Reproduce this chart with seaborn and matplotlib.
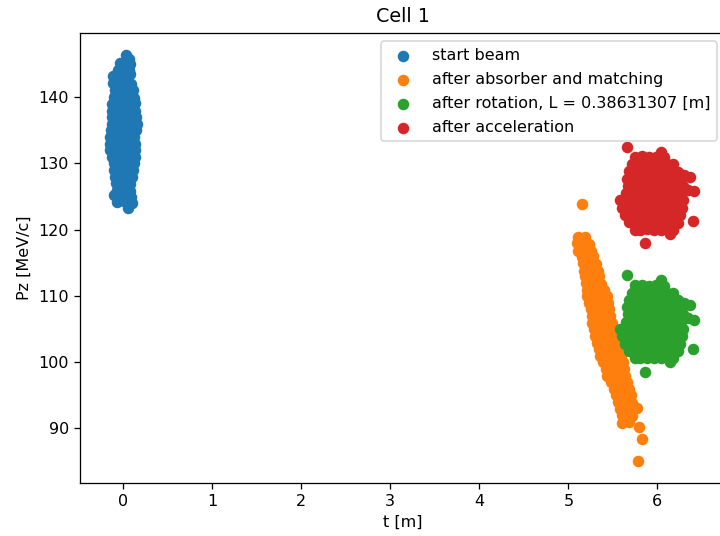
import matplotlib
matplotlib.use("Agg")
import matplotlib.pyplot as plt
import pandas as pd
import seaborn as sns

# Longitudinal phase space (t [m], Pz [MeV/c]) of the macro-particles per stage
start_beam = [
    (0.03, 146.4), (0.06, 145.8),
    (-0.04, 145.2), (0.02, 145.3), (0.07, 145.0),
    (-0.06, 144.2), (0.01, 144.3), (0.06, 144.1),
    (-0.12, 143.3), (-0.04, 143.4), (0.04, 143.2), (0.08, 143.5),
    (-0.12, 142.2), (-0.04, 142.1), (0.04, 142.3), (0.09, 142.0),
    (-0.09, 141.1), (-0.02, 141.2), (0.05, 141.0), (0.11, 141.1),
    (-0.11, 140.1), (-0.03, 140.0), (0.05, 140.2), (0.12, 139.9),
    (-0.13, 139.0), (-0.05, 139.1), (0.04, 138.9), (0.13, 139.1),
    (-0.13, 138.0), (-0.04, 137.9), (0.05, 138.1), (0.13, 137.9),
    (-0.13, 137.0), (-0.04, 137.1), (0.05, 136.9), (0.14, 137.0),
    (-0.13, 136.0), (-0.04, 135.9), (0.06, 136.1), (0.15, 136.0),
    (-0.14, 135.0), (-0.05, 135.1), (0.05, 134.9), (0.14, 135.1),
    (-0.15, 134.0), (-0.06, 133.9), (0.03, 134.1), (0.12, 134.0),
    (-0.15, 133.0), (-0.06, 133.1), (0.03, 132.9), (0.13, 133.0),
    (-0.15, 132.0), (-0.06, 131.9), (0.04, 132.1), (0.13, 132.0),
    (-0.13, 131.0), (-0.04, 131.1), (0.05, 130.9), (0.13, 131.0),
    (-0.11, 130.0), (-0.03, 129.9), (0.05, 130.1), (0.12, 130.0),
    (-0.10, 129.0), (-0.02, 129.1), (0.06, 128.9), (0.11, 129.0),
    (-0.09, 128.0), (-0.01, 127.9), (0.06, 128.1), (0.10, 128.0),
    (-0.08, 127.0), (0.00, 127.1), (0.08, 126.9),
    (-0.07, 126.0), (0.01, 126.1), (0.08, 125.9),
    (-0.11, 125.2), (-0.03, 125.1), (0.05, 125.3), (0.09, 124.9),
    (-0.07, 124.2), (0.01, 124.3), (0.10, 124.0),
    (0.05, 123.3),
]

after_absorber = [
    (5.15, 123.9),
    (5.11, 118.9), (5.19, 118.8),
    (5.10, 117.9), (5.17, 118.0), (5.23, 117.8),
    (5.11, 116.8), (5.19, 116.9), (5.26, 116.7),
    (5.15, 115.9), (5.22, 115.8), (5.28, 116.0),
    (5.16, 114.9), (5.24, 115.0), (5.31, 114.8),
    (5.18, 113.8), (5.26, 113.9), (5.33, 113.7),
    (5.19, 112.9), (5.27, 112.8), (5.35, 113.0),
    (5.20, 111.9), (5.29, 112.0), (5.37, 111.8),
    (5.21, 110.9), (5.27, 110.8), (5.34, 111.0), (5.40, 110.9),
    (5.21, 109.9), (5.28, 110.0), (5.36, 109.8), (5.43, 109.9),
    (5.23, 108.9), (5.30, 108.8), (5.38, 109.0), (5.45, 108.9),
    (5.25, 107.9), (5.32, 108.0), (5.39, 107.8), (5.46, 107.9),
    (5.27, 106.9), (5.34, 106.8), (5.40, 107.0), (5.47, 106.9),
    (5.27, 105.9), (5.34, 106.0), (5.42, 105.8), (5.49, 105.9),
    (5.29, 104.9), (5.36, 104.8), (5.44, 105.0), (5.51, 104.9),
    (5.30, 103.9), (5.37, 104.0), (5.45, 103.8), (5.52, 103.9),
    (5.32, 102.9), (5.40, 102.8), (5.47, 103.0), (5.55, 102.9),
    (5.34, 101.9), (5.42, 102.0), (5.49, 101.8), (5.57, 101.9),
    (5.36, 100.9), (5.44, 100.8), (5.51, 101.0), (5.59, 100.9),
    (5.39, 99.9), (5.46, 100.0), (5.54, 99.8), (5.61, 99.9),
    (5.42, 98.9), (5.49, 98.8), (5.56, 99.0), (5.63, 98.9),
    (5.44, 97.9), (5.51, 98.0), (5.57, 97.8), (5.64, 97.9),
    (5.48, 96.9), (5.54, 96.8), (5.60, 97.0), (5.66, 96.9),
    (5.51, 95.9), (5.60, 96.0), (5.68, 95.8),
    (5.54, 94.9), (5.62, 94.8), (5.70, 95.0),
    (5.56, 93.9), (5.64, 94.0), (5.72, 93.8),
    (5.58, 92.9), (5.66, 92.8), (5.73, 93.0), (5.77, 93.0),
    (5.60, 91.9), (5.66, 92.0), (5.71, 91.8),
    (5.60, 90.7), (5.68, 90.9),
    (5.79, 90.1), (5.83, 88.3), (5.78, 84.9),
]

after_rotation = [
    (5.66, 113.05), (6.04, 112.35),
    (5.75, 111.55), (5.83, 111.65), (5.91, 111.5), (5.99, 111.6), (6.08, 111.5),
    (5.71, 110.45), (5.79, 110.5), (5.87, 110.4), (5.95, 110.45), (6.03, 110.5),
    (6.11, 110.4), (6.18, 110.45),
    (5.68, 109.35), (5.75, 109.3), (5.83, 109.4), (5.91, 109.35), (5.99, 109.3),
    (6.07, 109.4), (6.15, 109.35), (6.23, 109.3), (6.30, 108.85), (6.37, 108.55),
    (5.66, 108.25), (5.71, 108.3), (5.79, 108.2), (5.87, 108.25), (5.95, 108.3),
    (6.03, 108.2), (6.11, 108.25), (6.19, 108.3), (6.27, 108.2),
    (5.67, 107.15), (5.75, 107.1), (5.83, 107.2), (5.91, 107.15), (5.99, 107.1),
    (6.07, 107.2), (6.15, 107.15), (6.23, 107.1), (6.29, 107.15), (6.35, 106.55),
    (6.41, 106.35),
    (5.645, 106.05), (5.71, 106.0), (5.79, 106.1), (5.87, 106.05), (5.95, 106.0),
    (6.03, 106.1), (6.11, 106.05), (6.19, 106.0), (6.27, 106.05),
    (5.58, 104.95), (5.67, 104.9), (5.75, 105.0), (5.83, 104.95), (5.91, 104.9),
    (5.99, 105.0), (6.07, 104.95), (6.15, 104.9), (6.23, 105.0), (6.29, 104.95),
    (5.60, 103.85), (5.71, 103.8), (5.79, 103.9), (5.87, 103.85), (5.95, 103.8),
    (6.03, 103.9), (6.11, 103.85), (6.19, 103.8), (6.28, 103.85),
    (5.64, 102.75), (5.72, 102.7), (5.80, 102.8), (5.88, 102.75), (5.96, 102.7),
    (6.04, 102.8), (6.12, 102.75), (6.19, 102.7), (6.25, 102.75),
    (5.68, 101.65), (5.76, 101.6), (5.84, 101.7), (5.92, 101.65), (6.00, 101.6),
    (6.08, 101.7), (6.16, 101.65), (6.23, 101.6), (6.40, 101.85),
    (5.75, 100.55), (5.80, 100.5), (5.88, 100.6), (5.96, 100.55), (6.04, 100.5),
    (6.12, 100.6), (6.18, 100.55),
    (6.14, 99.95), (5.86, 98.45),
]

after_acceleration = [
    (5.66, 132.5), (6.04, 131.8),
    (5.75, 131.0), (5.83, 131.1), (5.91, 130.95), (5.99, 131.05), (6.08, 130.95),
    (5.71, 129.9), (5.79, 129.95), (5.87, 129.85), (5.95, 129.9), (6.03, 129.95),
    (6.11, 129.85), (6.18, 129.9),
    (5.68, 128.8), (5.75, 128.75), (5.83, 128.85), (5.91, 128.8), (5.99, 128.75),
    (6.07, 128.85), (6.15, 128.8), (6.23, 128.75), (6.30, 128.3), (6.37, 128.0),
    (5.66, 127.7), (5.71, 127.75), (5.79, 127.65), (5.87, 127.7), (5.95, 127.75),
    (6.03, 127.65), (6.11, 127.7), (6.19, 127.75), (6.27, 127.65),
    (5.67, 126.6), (5.75, 126.55), (5.83, 126.65), (5.91, 126.6), (5.99, 126.55),
    (6.07, 126.65), (6.15, 126.6), (6.23, 126.55), (6.29, 126.6), (6.35, 126.0),
    (6.41, 125.8),
    (5.645, 125.5), (5.71, 125.45), (5.79, 125.55), (5.87, 125.5), (5.95, 125.45),
    (6.03, 125.55), (6.11, 125.5), (6.19, 125.45), (6.27, 125.5),
    (5.58, 124.4), (5.67, 124.35), (5.75, 124.45), (5.83, 124.4), (5.91, 124.35),
    (5.99, 124.45), (6.07, 124.4), (6.15, 124.35), (6.23, 124.45), (6.29, 124.4),
    (5.60, 123.3), (5.71, 123.25), (5.79, 123.35), (5.87, 123.3), (5.95, 123.25),
    (6.03, 123.35), (6.11, 123.3), (6.19, 123.25), (6.28, 123.3),
    (5.64, 122.2), (5.72, 122.15), (5.80, 122.25), (5.88, 122.2), (5.96, 122.15),
    (6.04, 122.25), (6.12, 122.2), (6.19, 122.15), (6.25, 122.2),
    (5.68, 121.1), (5.76, 121.05), (5.84, 121.15), (5.92, 121.1), (6.00, 121.05),
    (6.08, 121.15), (6.16, 121.1), (6.23, 121.05), (6.40, 121.3),
    (5.75, 120.0), (5.80, 119.95), (5.88, 120.05), (5.96, 120.0), (6.04, 119.95),
    (6.12, 120.05), (6.18, 120.0),
    (6.14, 119.4), (5.86, 117.9),
]

stage_labels = [
    "start beam",
    "after absorber and matching",
    "after rotation, L = 0.38631307 [m]",
    "after acceleration",
]
stage_colors = ["#1f77b4", "#ff7f0e", "#2ca02c", "#d62728"]

DPI = 115
fig = plt.figure(figsize=(720 / DPI, 536 / DPI), dpi=DPI)
ax = fig.add_axes([0.1111, 0.0994, 0.8958, 0.8384])

for points, label, color in zip(
    [start_beam, after_absorber, after_rotation, after_acceleration],
    stage_labels,
    stage_colors,
):
    frame = pd.DataFrame(points, columns=["t", "Pz"])
    sns.scatterplot(
        data=frame, x="t", y="Pz", color=color, s=52, linewidth=0,
        label=label, ax=ax,
    )

ax.set_xlim(-0.4865, 6.76)
ax.set_ylim(81.68, 149.7)
ax.set_title("Cell 1", pad=7)
ax.set_xlabel("t [m]")
ax.set_ylabel("Pz [MeV/c]")
ax.legend(loc="upper right", labelspacing=0.57)

fig.savefig("out.png", dpi=DPI)
